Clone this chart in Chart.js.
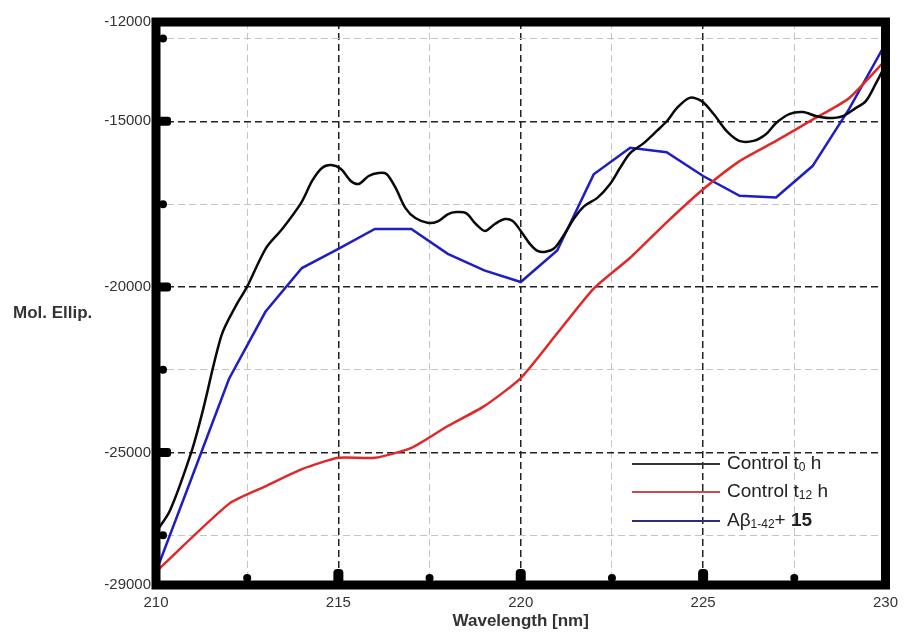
<!DOCTYPE html>
<html>
<head>
<meta charset="utf-8">
<script src="https://cdn.jsdelivr.net/npm/chart.js@4/dist/chart.umd.min.js"></script>
<style>
html,body{margin:0;padding:0;background:#fff;}
#wrap{width:907px;height:635px;position:relative;}
</style>
</head>
<body>
<div id="wrap"><canvas id="c" width="907" height="635"></canvas></div>
<script>
// ---- Data ----
const xTitle = 'Wavelength [nm]';
const yTitle = 'Mol. Ellip.';

const seriesNames = ['Control t\u2080 h', 'Control t\u2081\u2082 h', 'A\u03b2\u2081\u208b\u2084\u2082+ 15'];

const t0Wavelength = [210.0,210.38,210.98,211.28,211.8,212.2,212.48,213.02,213.46,213.98,214.28,214.55,214.8,215.07,215.34,215.56,215.83,216.1,216.32,216.57,216.84,217.11,217.47,217.74,218.01,218.23,218.5,218.77,219.02,219.29,219.56,219.78,220.0,220.25,220.46,220.68,220.93,221.2,221.47,221.74,222.1,222.45,222.72,223.0,223.38,223.73,224.01,224.28,224.63,224.96,225.29,225.64,225.99,226.38,226.73,227.0,227.36,227.74,228.09,228.45,228.83,229.18,229.46,229.73,229.95,230.0];
const t0Ellip = [-27400,-26760,-24950,-23750,-21450,-20550,-20030,-18820,-18250,-17460,-16800,-16410,-16320,-16440,-16800,-16890,-16650,-16560,-16590,-17010,-17620,-17920,-18070,-18010,-17800,-17740,-17770,-18100,-18310,-18100,-17950,-18010,-18310,-18700,-18910,-18940,-18820,-18400,-17920,-17560,-17310,-16890,-16410,-15960,-15650,-15290,-14990,-14600,-14290,-14390,-14780,-15290,-15590,-15590,-15380,-15050,-14780,-14720,-14840,-14900,-14840,-14600,-14390,-13870,-13390,-13150];

const t12Wavelength = [210,212,213,214,215,216,217,218,219,220,221,222,223,224,225,226,227,228,229,230];
const t12Ellip = [-28600,-26550,-26020,-25500,-25160,-25160,-24860,-24200,-23600,-22750,-21400,-20050,-19120,-18050,-17050,-16200,-15590,-14950,-14300,-13150];

const abWavelength = [210,211,212,213,214,215,216,217,218,219,220,221,222,223,224,225,226,227,228,229,230];
const abEllip = [-28600,-25700,-22780,-20750,-19430,-18850,-18250,-18250,-19000,-19500,-19850,-18900,-16600,-15800,-15930,-16650,-17250,-17300,-16350,-14630,-12650];

const xMin = 210, xMax = 230, xStep = 2.5;
const yMin = -29000, yMax = -12000, yStep = 2500;

// legend text pieces: [text, kind] kind: n=normal, s=subscript, b=bold
const legendPieces = [
  [['Control t','n'],['0','s'],[' h','n']],
  [['Control t','n'],['12','s'],[' h','n']],
  [['A\u03b2','n'],['1-42','s'],['+ ','n'],['15','b']]
];
const legendLineColors = ['#333333','#cc4a4a','#2c2c78'];

// ---- Chart ----
function pts(xs, ys){ return xs.map((x,i)=>({x:x, y:ys[i]})); }

const FONT = "'Liberation Sans', Arial, sans-serif";

const decor = {
  id: 'decor',
  afterDatasetsDraw(chart){
    const ctx = chart.ctx, a = chart.chartArea;
    const xs = chart.scales.x, ys = chart.scales.y;
    ctx.save();
    // frame
    ctx.strokeStyle = '#000';
    ctx.lineWidth = 9;
    ctx.strokeRect(a.left, a.top, a.right - a.left, a.bottom - a.top);
    ctx.fillStyle = '#000';
    // x tick bumps
    xs.ticks.forEach(t => {
      if (t.value <= xMin || t.value >= xMax) return;
      const px = xs.getPixelForValue(t.value);
      if (t.value % 5 === 0) {
        ctx.beginPath();
        ctx.roundRect(px - 5, a.bottom - 16, 10, 16, 4);
        ctx.fill();
      } else {
        ctx.beginPath();
        ctx.arc(px, a.bottom - 7, 4, 0, Math.PI*2);
        ctx.fill();
      }
    });
    // y tick bumps
    ys.ticks.forEach(t => {
      if (t.value <= yMin || t.value >= yMax) return;
      const py = ys.getPixelForValue(t.value);
      if (t.value % 5000 === 0) {
        ctx.beginPath();
        ctx.roundRect(a.left, py - 4.5, 15, 9, 3);
        ctx.fill();
      } else {
        ctx.beginPath();
        ctx.arc(a.left + 7, py, 4, 0, Math.PI*2);
        ctx.fill();
      }
    });
    // y title (horizontal)
    ctx.fillStyle = '#333';
    ctx.font = "bold 17px " + FONT;
    ctx.textAlign = 'left';
    ctx.textBaseline = 'middle';
    ctx.fillText(yTitle, 13, 313);
    // legend
    const lx0 = 632, lx1 = 720, tx = 727;
    const rows = [464, 492, 521];
    rows.forEach((ry, i) => {
      ctx.strokeStyle = legendLineColors[i];
      ctx.lineWidth = 2;
      ctx.beginPath();
      ctx.moveTo(lx0, ry); ctx.lineTo(lx1, ry);
      ctx.stroke();
      let x = tx;
      ctx.fillStyle = '#222';
      ctx.textBaseline = 'middle';
      legendPieces[i].forEach(([txt, kind]) => {
        let dy = 0;
        if (kind === 's') { ctx.font = "12px " + FONT; dy = 4; }
        else if (kind === 'b') { ctx.font = "bold 19px " + FONT; }
        else { ctx.font = "19px " + FONT; }
        ctx.fillText(txt, x, ry + dy);
        x += ctx.measureText(txt).width;
      });
    });
    ctx.restore();
  }
};

new Chart(document.getElementById('c'), {
  type: 'line',
  data: {
    datasets: [
      { label: seriesNames[0], data: pts(t0Wavelength, t0Ellip), borderColor: '#0a0a0a', borderWidth: 2.5, pointRadius: 0, tension: 0.3, fill: false },
      { label: seriesNames[1], data: pts(t12Wavelength, t12Ellip), borderColor: '#e02828', borderWidth: 2.5, pointRadius: 0, tension: 0.2, fill: false },
      { label: seriesNames[2], data: pts(abWavelength, abEllip), borderColor: '#1e1ec4', borderWidth: 2.5, pointRadius: 0, tension: 0, fill: false }
    ]
  },
  options: {
    responsive: false,
    animation: false,
    events: [],
    layout: { padding: { left: 0, top: 22, right: 16, bottom: 0 } },
    plugins: { legend: { display: false }, tooltip: { enabled: false } },
    scales: {
      x: {
        type: 'linear', min: xMin, max: xMax,
        afterFit: s => { s.height = 50; },
        ticks: {
          stepSize: xStep, padding: 9, color: '#333', maxRotation: 0, autoSkip: false,
          font: { family: FONT, size: 15 },
          callback: v => (v % 5 === 0 ? String(v) : '')
        },
        grid: {
          drawTicks: false,
          color: c => { const v = c.tick ? c.tick.value : 0; if (v <= xMin || v >= xMax) return 'rgba(0,0,0,0)'; return v % 5 === 0 ? '#222' : '#c4c4c4'; },
          lineWidth: c => { const v = c.tick ? c.tick.value : 0; return v % 5 === 0 ? 1.5 : 1; }
        },
        border: { display: false, dash: [7, 4] },
        title: { display: true, text: xTitle, color: '#333', font: { family: FONT, size: 17, weight: 'bold' }, padding: { top: 0, bottom: 3 } }
      },
      y: {
        type: 'linear', min: yMin, max: yMax,
        afterFit: s => { s.width = 156; },
        afterBuildTicks: s => {
          const arr = [yMin];
          for (let v = -27500; v < yMax; v += yStep) arr.push(v);
          arr.push(yMax);
          s.ticks = arr.map(v => ({ value: v }));
        },
        ticks: {
          padding: 5, color: '#333', autoSkip: false,
          font: { family: FONT, size: 15 },
          callback: v => ((v % 5000 === 0 || v === yMin || v === yMax) ? String(v) : '')
        },
        grid: {
          drawTicks: false,
          color: c => { const v = c.tick ? c.tick.value : 0; if (v <= yMin || v >= yMax) return 'rgba(0,0,0,0)'; return v % 5000 === 0 ? '#222' : '#c4c4c4'; },
          lineWidth: c => { const v = c.tick ? c.tick.value : 0; return v % 5000 === 0 ? 1.5 : 1; }
        },
        border: { display: false, dash: [7, 4] }
      }
    }
  },
  plugins: [decor]
});
</script>
</body>
</html>
